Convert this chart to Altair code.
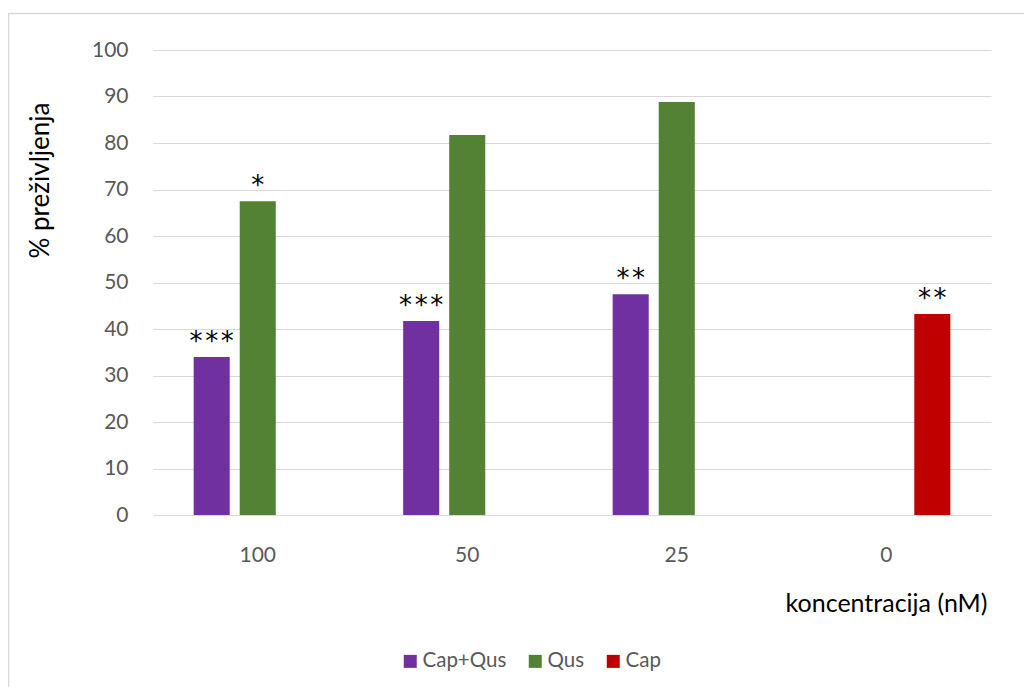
import altair as alt
import pandas as pd

categories = ["100", "50", "25", "0"]
series = ["Cap+Qus", "Qus", "Cap"]
colors = ["#7030A0", "#548235", "#C00000"]

cap_qus = [34.0, 41.7, 47.5, None]
qus = [67.5, 81.7, 88.8, None]
cap = [None, None, None, 43.2]

ann_cat = ["100", "100", "50", "25", "0"]
ann_series = ["Cap+Qus", "Qus", "Cap+Qus", "Cap+Qus", "Cap"]
ann_value = [34.0, 67.5, 41.7, 47.5, 43.2]
ann_label = ["*\u200a*\u200a*", "*", "*\u200a*\u200a*", "*\u200a*", "*\u200a*"]

rows = []
for name, vals in zip(series, [cap_qus, qus, cap]):
    for c, v in zip(categories, vals):
        if v is not None:
            rows.append({"konc": c, "serija": name, "vrijednost": v})
df = pd.DataFrame(rows)
ann = pd.DataFrame({"konc": ann_cat, "serija": ann_series,
                    "vrijednost": ann_value, "oznaka": ann_label})

FONT = "Lato"
x_enc = alt.X("konc:N", sort=categories,
              scale=alt.Scale(paddingInner=0, paddingOuter=0),
              axis=alt.Axis(title="koncentracija (nM)", labelAngle=0,
                            labelFont=FONT, labelFontSize=21, labelColor="#595959",
                            labelPadding=29, ticks=False, domainColor="#d9d9d9",
                            titleFont=FONT, titleFontSize=25, titleFontWeight="normal",
                            titleColor="#000000", titleX=834, titleY=88,
                            titleAlign="right", titleBaseline="middle"))
xo_enc = alt.XOffset("serija:N", sort=series,
                     scale=alt.Scale(domain=series, paddingInner=0.217, paddingOuter=0.883))
y_enc = alt.Y("vrijednost:Q",
              scale=alt.Scale(domain=[0, 100], nice=False),
              axis=alt.Axis(values=list(range(0, 101, 10)), title="% preživljenja",
                            labelFont=FONT, labelFontSize=21, labelColor="#595959",
                            labelPadding=25, ticks=False, domain=False,
                            gridColor="#d9d9d9", gridWidth=1,
                            titleFont=FONT, titleFontSize=26, titleFontWeight="normal",
                            titleColor="#000000", titleAngle=-90, titleX=-113, titleY=130,
                            titleAlign="center", titleBaseline="middle"))
color_enc = alt.Color("serija:N", sort=series,
                      scale=alt.Scale(domain=series, range=colors),
                      legend=alt.Legend(title=None, orient="none", direction="horizontal",
                                        legendX=247, legendY=601, symbolType="square",
                                        symbolSize=169, symbolStrokeWidth=0,
                                        labelFont=FONT, labelFontSize=20.5,
                                        labelColor="#595959", labelOffset=2,
                                        columnPadding=18))

bars = alt.Chart(df).mark_bar().encode(x=x_enc, xOffset=xo_enc, y=y_enc, color=color_enc)

labels = alt.Chart(ann).mark_text(font="DejaVu Sans", fontSize=26,
                                  color="#000000", baseline="alphabetic", dy=-7).encode(
    x=alt.X("konc:N", sort=categories), xOffset=alt.XOffset("serija:N", sort=series),
    y=alt.Y("vrijednost:Q"), text="oznaka:N")

border = alt.Chart(pd.DataFrame({"a": [0]})).mark_rect(
    fillOpacity=0, stroke="#d9d9d9", strokeWidth=1.5).encode(
    x=alt.value(-144.5), x2=alt.value(900), y=alt.value(-36.5), y2=alt.value(700))

chart = alt.layer(border, bars, labels).properties(
    width=838, height=465,
    autosize=alt.AutoSizeParams(type="none"),
    padding={"left": 145, "top": 42, "right": 33, "bottom": 172},
).configure_view(stroke=None)

chart.save("out.html", embed_options={"renderer": "svg", "actions": False})
